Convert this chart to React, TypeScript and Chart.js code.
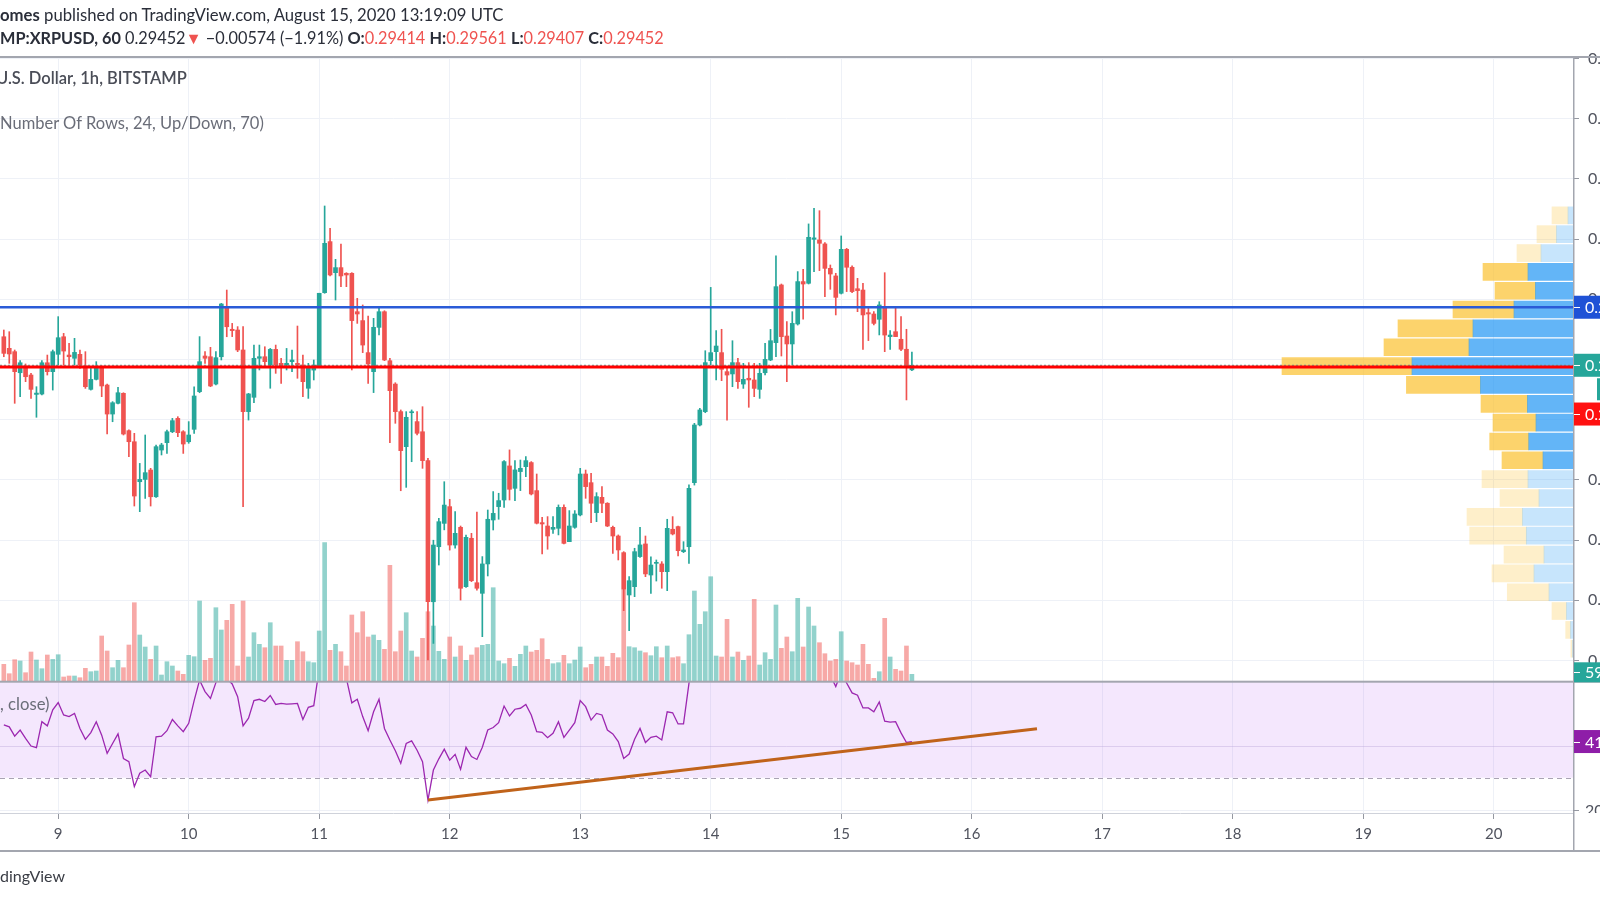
import React, { useEffect, useRef } from "react";
import { Chart, registerables } from "chart.js";

Chart.register(...registerables);

// ---------- data (hourly candles, hour offsets from Aug 9 00:00 UTC) ----------
const FIRST_HOUR = -10;

const opens = [
  0.29689, 0.29593, 0.29565, 0.2939, 0.29446, 0.29371, 0.2921, 0.29213, 0.29473, 0.29399,
  0.29543, 0.29689, 0.29537, 0.2951, 0.29543, 0.29446, 0.29252, 0.29335, 0.29435, 0.29288,
  0.29047, 0.29136, 0.29219, 0.28909, 0.28817, 0.28485, 0.28504, 0.28582, 0.2836, 0.28748,
  0.28809, 0.289, 0.29011, 0.289, 0.28817, 0.2892, 0.29233, 0.29529, 0.29523, 0.29296,
  0.29523, 0.29939, 0.29751, 0.29745, 0.29579, 0.29067, 0.29186, 0.2951, 0.29523, 0.29454,
  0.29584, 0.29468, 0.29454, 0.29482, 0.29468, 0.29454, 0.29261, 0.29412, 0.29446, 0.30055,
  0.30479, 0.30221, 0.30263, 0.30216, 0.30216, 0.29897, 0.29823, 0.29557, 0.29399, 0.29767,
  0.29897, 0.2949, 0.29296, 0.29067, 0.28776, 0.29058, 0.28984, 0.289, 0.2866, 0.27488,
  0.27945, 0.28139, 0.28278, 0.27959, 0.28106, 0.27613, 0.28015, 0.27646, 0.27558, 0.27802,
  0.28167, 0.28278, 0.28333, 0.28616, 0.2843, 0.28569, 0.2861, 0.28644, 0.28411, 0.28145,
  0.28117, 0.2809, 0.28098, 0.28272, 0.27987, 0.28106, 0.28209, 0.28549, 0.28477, 0.28228,
  0.28355, 0.28306, 0.28106, 0.28034, 0.27896, 0.27544, 0.27613, 0.27863, 0.27968, 0.2771,
  0.27807, 0.27802, 0.27738, 0.2809, 0.28112, 0.27904, 0.27945, 0.28477, 0.28956, 0.29067,
  0.2949, 0.29565, 0.29557, 0.29399, 0.2938, 0.29474, 0.29296, 0.29344, 0.2933, 0.29252,
  0.2939, 0.29496, 0.2964, 0.30119, 0.29695, 0.29629, 0.29795, 0.30147, 0.30133, 0.30498,
  0.30493, 0.3046, 0.30257, 0.30194, 0.3005, 0.30415, 0.30266, 0.30088, 0.30077, 0.29889,
  0.29878, 0.29834, 0.29925, 0.2969, 0.29731, 0.29668, 0.29585, 0.29414,
];

const highs = [
  0.29745, 0.29731, 0.29579, 0.2949, 0.29463, 0.29385, 0.29274, 0.2949, 0.29537, 0.29579,
  0.29856, 0.29717, 0.29634, 0.29676, 0.29579, 0.29565, 0.29426, 0.29482, 0.29446, 0.29296,
  0.2915, 0.29268, 0.29224, 0.28915, 0.28887, 0.28637, 0.28873, 0.28596, 0.2879, 0.28804,
  0.28914, 0.29011, 0.29025, 0.28909, 0.28984, 0.29274, 0.2969, 0.29565, 0.29601, 0.29565,
  0.29966, 0.30077, 0.298, 0.29773, 0.29773, 0.29219, 0.2962, 0.2962, 0.29606, 0.29592,
  0.2962, 0.2951, 0.29592, 0.29579, 0.29778, 0.29537, 0.29468, 0.29496, 0.3005, 0.30775,
  0.3059, 0.30332, 0.30459, 0.30221, 0.30221, 0.30008, 0.29953, 0.29861, 0.29842, 0.29925,
  0.29905, 0.2951, 0.29307, 0.29081, 0.29067, 0.29081, 0.29067, 0.29108, 0.2868, 0.27999,
  0.28181, 0.28485, 0.28338, 0.28236, 0.28117, 0.28042, 0.28056, 0.28232, 0.27863, 0.2825,
  0.28403, 0.28389, 0.2866, 0.28749, 0.2866, 0.28665, 0.28693, 0.28652, 0.28549, 0.28189,
  0.28195, 0.28195, 0.28292, 0.28292, 0.28245, 0.28245, 0.28596, 0.28582, 0.28555, 0.28394,
  0.28444, 0.28311, 0.28117, 0.28043, 0.27904, 0.27696, 0.27932, 0.28106, 0.28034, 0.27862,
  0.27835, 0.27821, 0.28173, 0.28195, 0.28117, 0.27987, 0.28458, 0.2897, 0.29094, 0.29573,
  0.30099, 0.2974, 0.29751, 0.2944, 0.29656, 0.2951, 0.29468, 0.29474, 0.29468, 0.29468,
  0.29634, 0.2975, 0.3036, 0.30127, 0.29815, 0.29897, 0.3023, 0.30249, 0.30626, 0.30756,
  0.30736, 0.30471, 0.30285, 0.30216, 0.30526, 0.30423, 0.30277, 0.30174, 0.30133, 0.29925,
  0.29897, 0.2998, 0.30221, 0.2974, 0.29925, 0.29856, 0.29751, 0.29561,
];

const lows = [
  0.29523, 0.29468, 0.29136, 0.29191, 0.29316, 0.29177, 0.2902, 0.29205, 0.29371, 0.29246,
  0.29454, 0.29454, 0.29454, 0.29454, 0.29426, 0.2926, 0.29246, 0.2933, 0.29191, 0.28881,
  0.28983, 0.2913, 0.28873, 0.28693, 0.28283, 0.28236, 0.28346, 0.28283, 0.28355, 0.28707,
  0.2872, 0.28892, 0.28859, 0.2872, 0.28804, 0.28887, 0.29224, 0.29468, 0.29274, 0.29288,
  0.29496, 0.29689, 0.2969, 0.29565, 0.28278, 0.28997, 0.29141, 0.29413, 0.2944, 0.29261,
  0.29385, 0.29302, 0.29413, 0.29399, 0.29344, 0.29191, 0.29177, 0.2933, 0.2944, 0.3005,
  0.30194, 0.29994, 0.30105, 0.30105, 0.29413, 0.298, 0.29557, 0.29302, 0.29225, 0.29704,
  0.2949, 0.28809, 0.2897, 0.2841, 0.28438, 0.28651, 0.28873, 0.28596, 0.27004, 0.27142,
  0.27793, 0.28085, 0.27917, 0.27932, 0.27502, 0.27608, 0.27655, 0.27585, 0.27198, 0.27702,
  0.28084, 0.28173, 0.28272, 0.28333, 0.28328, 0.28411, 0.28527, 0.28375, 0.28134, 0.27885,
  0.27924, 0.28056, 0.28043, 0.27968, 0.27987, 0.28098, 0.28201, 0.28347, 0.28145, 0.28153,
  0.28228, 0.28112, 0.2789, 0.27835, 0.27414, 0.27248, 0.2753, 0.27857, 0.27696, 0.27558,
  0.2766, 0.276, 0.2758, 0.28043, 0.27868, 0.27896, 0.27807, 0.28457, 0.28948, 0.29058,
  0.29454, 0.2933, 0.29324, 0.28997, 0.29274, 0.2926, 0.2926, 0.29103, 0.29191, 0.29177,
  0.29371, 0.2949, 0.29523, 0.29529, 0.29316, 0.29454, 0.29786, 0.29834, 0.30127, 0.3023,
  0.30238, 0.30022, 0.30083, 0.2987, 0.30044, 0.30064, 0.30055, 0.29897, 0.29584, 0.29657,
  0.29787, 0.29704, 0.29565, 0.29584, 0.2969, 0.29573, 0.29164, 0.29407,
];

const closes = [
  0.29551, 0.29546, 0.29399, 0.29473, 0.29357, 0.29252, 0.29221, 0.29473, 0.29399, 0.29565,
  0.29681, 0.2957, 0.29523, 0.29559, 0.29454, 0.29274, 0.29335, 0.2944, 0.2928, 0.29047,
  0.29141, 0.29224, 0.28881, 0.28817, 0.28366, 0.28504, 0.2856, 0.2836, 0.28776, 0.2879,
  0.289, 0.28992, 0.28892, 0.28798, 0.28873, 0.29197, 0.29482, 0.2951, 0.2928, 0.29515,
  0.29961, 0.29772, 0.2974, 0.29579, 0.29067, 0.29214, 0.2951, 0.29523, 0.29482, 0.29584,
  0.29454, 0.29446, 0.29468, 0.29496, 0.29454, 0.29316, 0.2944, 0.29454, 0.3005, 0.30465,
  0.30202, 0.30263, 0.30194, 0.30202, 0.29823, 0.29878, 0.2962, 0.29463, 0.29767, 0.29897,
  0.29496, 0.29241, 0.29067, 0.28743, 0.2902, 0.29065, 0.28887, 0.2866, 0.27488, 0.27959,
  0.28153, 0.28291, 0.27959, 0.28056, 0.276, 0.28023, 0.27663, 0.276, 0.27802, 0.28173,
  0.28222, 0.28328, 0.28652, 0.28422, 0.28583, 0.28596, 0.2866, 0.28383, 0.2814, 0.28134,
  0.28034, 0.28106, 0.28272, 0.27973, 0.28117, 0.28217, 0.28549, 0.28444, 0.28306, 0.28361,
  0.28306, 0.28117, 0.28034, 0.27918, 0.27591, 0.27663, 0.27904, 0.2796, 0.27719, 0.27793,
  0.27813, 0.27738, 0.28098, 0.28051, 0.27912, 0.27918, 0.2843, 0.28956, 0.29081, 0.29474,
  0.29557, 0.29612, 0.29418, 0.29371, 0.29474, 0.29316, 0.29335, 0.2933, 0.2926, 0.29385,
  0.29501, 0.29656, 0.30105, 0.2969, 0.29629, 0.298, 0.30147, 0.30127, 0.30515, 0.3051,
  0.30465, 0.30257, 0.3021, 0.30016, 0.30415, 0.30266, 0.30064, 0.30072, 0.2987, 0.29878,
  0.298, 0.29953, 0.29703, 0.29703, 0.2969, 0.29585, 0.29446, 0.29452,
];

const volumes = [
  17.4, 8, 22, 20.7, 9, 29.7, 21.7, 13, 26.7, 22.3,
  27, 4.7, 5.7, 5.7, 4, 13.4, 10, 10.7, 45.7, 30.7,
  14, 21.4, 14, 36.7, 79, 46.7, 34.7, 22.4, 35.7, 6.7,
  20, 15.7, 10.7, 7.4, 26.4, 25, 80.7, 21.4, 23.4, 74,
  51.7, 61.4, 77.4, 15.7, 80.7, 24.7, 49, 37.4, 34, 59,
  35.7, 35.7, 21.4, 21.4, 40, 30, 20, 19, 50.7, 139,
  31.4, 37.4, 30, 15.7, 66.7, 49, 70, 44.7, 46.7, 41.4,
  32.4, 116.4, 30, 50.7, 69, 30.7, 24.7, 43.4, 70, 55.7,
  30.4, 22.4, 44.7, 24.7, 35.7, 21.4, 26.7, 34, 36.4, 37.4,
  94, 20.7, 18, 23.4, 15.4, 27.4, 35.7, 29.7, 31.4, 43,
  22.4, 18, 19, 26.4, 18, 21.7, 34.7, 14, 17.4, 24.7,
  24.7, 15.4, 28.4, 24, 91.4, 35, 34, 30.7, 29, 26,
  35, 24, 35.7, 24, 25, 18, 47, 90.7, 57.4, 70,
  105, 25.7, 24.7, 62.4, 24.7, 29.7, 21.4, 25.7, 82.4, 16.7,
  29, 22.4, 76.7, 33.4, 44.7, 30, 83.4, 34.7, 74.7, 55.7,
  39, 28, 20.7, 22.4, 50, 20.7, 19, 16.7, 37.4, 17.4,
  3.4, 10, 63.4, 24.7, 12.4, 10.7, 35.7, 7.4,
];

const rsiValues = [
  46.5, 45.9, 43.0, 44.9, 42.3, 39.9, 39.4, 47.5, 46.2, 51.2,
  53.5, 49.6, 49.1, 50.1, 45.4, 42.0, 44.1, 47.5, 43.3, 37.6,
  40.7, 43.7, 36.0, 35.0, 27.2, 31.4, 32.4, 30.3, 42.8, 43.0,
  44.7, 48.2, 46.2, 44.4, 47.0, 54.1, 60.5, 56.9, 54.8, 59.7,
  66, 61, 59.3, 55.3, 46.2, 48.6, 54.1, 54.5, 53.8, 55.7,
  52.9, 53.2, 53.0, 53.1, 53.2, 48.2, 52.0, 52.5, 64, 72,
  66, 65, 65, 61, 53.4, 54.5, 49.1, 44.7, 50.6, 54.5,
  45.4, 41.8, 38.4, 34.5, 40.7, 41.5, 38.6, 35.0, 23.0, 32.4,
  35.9, 38.9, 35.5, 37.3, 32.6, 39.5, 36.6, 35.7, 39.5, 44.9,
  45.7, 47.2, 52.4, 49.3, 51.4, 51.7, 52.9, 49.6, 44.4, 44.2,
  42.5, 43.9, 47.5, 42.6, 44.9, 47.2, 54.1, 52.2, 48.0, 50.1,
  49.6, 44.9, 43.7, 41.3, 36.0, 37.4, 42.0, 45.4, 41.0, 42.6,
  43.0, 41.8, 50.6, 50.3, 46.8, 46.8, 59.5, 68, 70, 74,
  75, 75, 70, 68, 69, 65, 65, 64, 62, 64,
  66, 68, 74, 66, 65, 67, 72, 71, 75, 75,
  72, 66, 62, 58.5, 63, 59.6, 56.5, 55.8, 51.8, 51.8,
  50.6, 53.7, 47.7, 47.4, 47.5, 44.0, 41.0, 41.3,
];

const dayLabels = ["9", "10", "11", "12", "13", "14", "15", "16", "17", "18", "19", "20"];

// Volume profile (24 rows, row-centre prices, up / down volumes)
const vpPrices = [
  0.30697, 0.30541, 0.30384, 0.30228, 0.30071, 0.29915, 0.29758, 0.29602,
  0.29445, 0.29289, 0.29132, 0.28976, 0.28819, 0.28663, 0.28506, 0.2835,
  0.28193, 0.28037, 0.2788, 0.27724, 0.27567, 0.27411, 0.27254, 0.27098,
];
const vpUp = [5, 16.6, 32, 45, 37.6, 59, 100, 104, 161, 92.6, 45.6, 37, 44.3, 30, 45, 34, 50.6, 46.7, 29, 39, 24, 6.6, 2.6, 0.6];
const vpDown = [16, 19.4, 24, 45, 40.4, 61, 75, 85, 130, 74, 46.4, 43, 39, 41, 46, 39, 55.4, 56.6, 40, 42, 41.7, 14.4, 4.7, 1.5];
const vpInValueArea = [false, false, false, true, true, true, true, true, true, true, true, true, true, true, false, false, false, false, false, false, false, false, false, false];

// drawn levels
const blueLevel = 0.29934;
const redLevel = 0.29438;
const lastClose = 0.29452;
const redBadgeLevel = 0.29047;
const rsiTrend = [
  { h: 68, v: 23.0 },
  { h: 180, v: 45.3 },
];

// ---------- scale ranges ----------
const X_MIN = -10.703;
const X_MAX = 278.58;
const P_MIN = 0.257334;
const P_MAX = 0.320124;
const RSI_MIN = 18.97;
const RSI_MAX = 255.22;
const RSI_PANEL_TOP = 60;
const VOL_MIN = -131.3;
const VOL_MAX = 624.7;
const VP_MAX = 1573;
const PRICE_PANEL_MIN = 0.268;

const TEAL = "#26a69a";
const RED = "#ef5350";
const FONT = "Lato, 'Noto Sans', sans-serif";

const hours = opens.map((_, i) => FIRST_HOUR + i);
const isUp = closes.map((c, i) => c >= opens[i]);

function drawBadge(ctx: CanvasRenderingContext2D, left: number, y: number, h: number, color: string, text: string) {
  ctx.fillStyle = color;
  ctx.fillRect(left, y - h / 2, 40, h);
  ctx.strokeStyle = "#ffffff";
  ctx.lineWidth = 1;
  ctx.beginPath();
  ctx.moveTo(left, Math.round(y) + 0.5);
  ctx.lineTo(left + 6, Math.round(y) + 0.5);
  ctx.stroke();
  ctx.fillStyle = "#ffffff";
  ctx.font = `16px ${FONT}`;
  ctx.textBaseline = "middle";
  ctx.textAlign = "left";
  ctx.fillText(text, left + 11, y + 1);
}

const overlayPlugin = {
  id: "overlay",
  beforeDatasetsDraw(chart: any) {
    const { ctx, chartArea: a, scales } = chart;
    const r = scales.yRsi;
    const top = r.getPixelForValue(RSI_PANEL_TOP);
    const y70 = Math.max(r.getPixelForValue(70), top);
    const y30 = r.getPixelForValue(30);
    ctx.save();
    ctx.fillStyle = "rgba(176,82,242,0.14)";
    ctx.fillRect(a.left, y70, a.right - a.left, y30 - y70);
    const y40 = Math.round(r.getPixelForValue(40)) + 0.5;
    ctx.strokeStyle = "rgba(190,170,220,0.45)";
    ctx.lineWidth = 1;
    ctx.beginPath();
    ctx.moveTo(a.left, y40);
    ctx.lineTo(a.right, y40);
    ctx.stroke();
    const y20 = Math.round(r.getPixelForValue(20)) + 0.5;
    ctx.strokeStyle = "#eef0f6";
    ctx.beginPath();
    ctx.moveTo(a.left, y20);
    ctx.lineTo(a.right, y20);
    ctx.stroke();
    ctx.setLineDash([5, 4]);
    ctx.strokeStyle = "#aaa3b4";
    ctx.beginPath();
    ctx.moveTo(a.left, Math.round(y30) + 0.5);
    ctx.lineTo(a.right, Math.round(y30) + 0.5);
    ctx.stroke();
    ctx.restore();
  },
  afterDraw(chart: any) {
    const { ctx, chartArea: a, scales } = chart;
    const r = scales.yRsi;
    const p = scales.y;
    const v = scales.yVol;
    const sep = r.getPixelForValue(RSI_PANEL_TOP);
    const W = chart.width;
    ctx.save();
    ctx.fillStyle = "#a3a6af";
    ctx.fillRect(0, sep - 1, W, 2);
    ctx.fillRect(0, a.top - 1, W, 2);
    const bottom = a.bottom + 38;
    ctx.fillRect(0, bottom - 1, W, 2);
    ctx.fillRect(a.right, a.top, 1.5, bottom - a.top);

    ctx.save();
    ctx.beginPath();
    ctx.rect(a.right, sep, 40, a.bottom - sep);
    ctx.clip();
    const y20 = r.getPixelForValue(20);
    ctx.strokeStyle = "#9598a1";
    ctx.lineWidth = 1;
    ctx.beginPath();
    ctx.moveTo(a.right, Math.round(y20) + 0.5);
    ctx.lineTo(a.right + 6, Math.round(y20) + 0.5);
    ctx.stroke();
    ctx.fillStyle = "#50535e";
    ctx.font = `16px ${FONT}`;
    ctx.textBaseline = "middle";
    ctx.fillText("20.00", a.right + 12, y20 + 1);
    ctx.restore();

    drawBadge(ctx, a.right + 1, p.getPixelForValue(blueLevel), 23, "#1f52d6", blueLevel.toFixed(5));
    drawBadge(ctx, a.right + 1, p.getPixelForValue(lastClose), 23, TEAL, lastClose.toFixed(5));
    drawBadge(ctx, a.right + 1, p.getPixelForValue(redBadgeLevel), 23, "#ff1111", redBadgeLevel.toFixed(5));
    ctx.fillStyle = TEAL;
    ctx.fillRect(W - 3, p.getPixelForValue(lastClose) + 13, 3, 22);
    drawBadge(ctx, a.right + 1, v.getPixelForValue(volumes[volumes.length - 1]) - 2, 20, TEAL, "59.523K");
    drawBadge(ctx, a.right + 1, r.getPixelForValue(rsiValues[rsiValues.length - 1]), 23, "#8e1ea8", rsiValues[rsiValues.length - 1].toFixed(2));
    ctx.restore();
  },
};

export default function App() {
  const canvasRef = useRef<HTMLCanvasElement | null>(null);

  useEffect(() => {
    const canvas = canvasRef.current;
    if (!canvas) return;

    const chart = new Chart(canvas, {
      type: "bar",
      data: {
        datasets: [
          {
            type: "line",
            label: "trend",
            data: rsiTrend.map((t) => ({ x: t.h, y: t.v })),
            xAxisID: "x",
            yAxisID: "yRsi",
            borderColor: "#c0631a",
            borderWidth: 3,
            pointRadius: 0,
            order: 0,
          } as any,
          {
            type: "line",
            label: "blue level",
            data: [
              { x: X_MIN, y: blueLevel },
              { x: X_MAX, y: blueLevel },
            ],
            xAxisID: "x",
            yAxisID: "y",
            borderColor: "#2a5bd7",
            borderWidth: 2.5,
            pointRadius: 0,
            order: 0,
          } as any,
          {
            type: "line",
            label: "red level",
            data: [
              { x: X_MIN, y: redLevel },
              { x: X_MAX, y: redLevel },
            ],
            xAxisID: "x",
            yAxisID: "y",
            borderColor: "#ff0000",
            borderWidth: 3,
            pointRadius: 0,
            order: 0,
          } as any,
          {
            type: "line",
            label: "last price",
            data: [
              { x: X_MIN, y: lastClose },
              { x: X_MAX, y: lastClose },
            ],
            xAxisID: "x",
            yAxisID: "y",
            borderColor: "#4f9a90",
            borderWidth: 1,
            borderDash: [2, 2],
            pointRadius: 0,
            order: 0,
          } as any,
          {
            type: "line",
            label: "RSI",
            data: hours.map((h, i) => ({ x: h, y: rsiValues[i] })),
            xAxisID: "x",
            yAxisID: "yRsi",
            borderColor: "#9c27b0",
            borderWidth: 1.3,
            pointRadius: 0,
            tension: 0,
            clip: { left: 0, right: 0, top: -625, bottom: 0 },
            order: 1,
          } as any,
          {
            type: "bar",
            label: "bodies",
            data: hours.map((h, i) => ({ x: h, y: [opens[i], closes[i]] })),
            xAxisID: "x",
            yAxisID: "y",
            backgroundColor: isUp.map((u) => (u ? TEAL : RED)),
            barThickness: 4,
            minBarLength: 1,
            borderWidth: 0,
            grouped: false,
            order: 2,
          } as any,
          {
            type: "bar",
            label: "wicks",
            data: hours.map((h, i) => ({ x: h, y: [lows[i], highs[i]] })),
            xAxisID: "x",
            yAxisID: "y",
            backgroundColor: isUp.map((u) => (u ? TEAL : RED)),
            barThickness: 1,
            borderWidth: 0,
            grouped: false,
            order: 3,
          } as any,
          {
            type: "bar",
            label: "VP up",
            indexAxis: "y",
            data: vpPrices.map((pr, i) => ({ y: pr, x: [0, vpUp[i]] })),
            xAxisID: "xVP",
            yAxisID: "y",
            backgroundColor: vpInValueArea.map((va) => (va ? "rgba(33,150,243,0.7)" : "rgba(33,150,243,0.25)")),
            barThickness: 17,
            borderWidth: 0,
            grouped: false,
            order: 4,
          } as any,
          {
            type: "bar",
            label: "VP down",
            indexAxis: "y",
            data: vpPrices.map((pr, i) => ({ y: pr, x: [vpUp[i], vpUp[i] + vpDown[i]] })),
            xAxisID: "xVP",
            yAxisID: "y",
            backgroundColor: vpInValueArea.map((va) => (va ? "rgba(251,192,45,0.7)" : "rgba(251,192,45,0.25)")),
            barThickness: 17,
            borderWidth: 0,
            grouped: false,
            order: 4,
          } as any,
          {
            type: "bar",
            label: "volume",
            data: hours.map((h, i) => ({ x: h, y: volumes[i] })),
            xAxisID: "x",
            yAxisID: "yVol",
            backgroundColor: isUp.map((u) => (u ? "rgba(38,166,154,0.5)" : "rgba(239,83,80,0.5)")),
            barThickness: 4,
            borderWidth: 0,
            grouped: false,
            order: 6,
          } as any,
        ],
      },
      options: {
        responsive: false,
        animation: false,
        devicePixelRatio: 1,
        layout: { padding: { top: 57, bottom: 49, left: 0, right: 0 } },
        plugins: { legend: { display: false }, tooltip: { enabled: false } },
        scales: {
          x: {
            type: "linear",
            position: "bottom",
            min: X_MIN,
            max: X_MAX,
            offset: false,
            grid: { offset: false, color: "#eef1f7", tickColor: "#9598a1", tickLength: 6, drawTicks: true },
            border: { color: "#cfd2da", width: 1 },
            ticks: {
              stepSize: 24,
              includeBounds: false,
              autoSkip: false,
              maxRotation: 0,
              padding: 6,
              color: "#50535e",
              font: { family: FONT, size: 15 },
              callback: (val: any) => dayLabels[Math.round(Number(val) / 24)] ?? "",
            },
            afterFit: (s: any) => {
              s.height = 38;
            },
          },
          y: {
            type: "linear",
            position: "right",
            min: P_MIN,
            max: P_MAX,
            offset: false,
            beginAtZero: false,
            grid: {
              offset: false,
              color: (c: any) => (c.tick && c.tick.value < PRICE_PANEL_MIN ? "rgba(0,0,0,0)" : "#eef1f7"),
              tickColor: (c: any) => (c.tick && c.tick.value < PRICE_PANEL_MIN ? "rgba(0,0,0,0)" : "#9598a1"),
              tickLength: 6,
            },
            border: { display: false },
            ticks: {
              stepSize: 0.005,
              includeBounds: false,
              autoSkip: false,
              padding: 9,
              color: "#50535e",
              font: { family: FONT, size: 16 },
              callback: (val: any) => (Number(val) < PRICE_PANEL_MIN ? "" : Number(val).toFixed(5)),
            },
            afterFit: (s: any) => {
              s.width = 27;
            },
          },
          yVol: { type: "linear", display: false, min: VOL_MIN, max: VOL_MAX, offset: false, beginAtZero: false },
          yRsi: { type: "linear", display: false, min: RSI_MIN, max: RSI_MAX, offset: false, beginAtZero: false },
          xVP: { type: "linear", display: false, reverse: true, min: 0, max: VP_MAX, offset: false, beginAtZero: false },
        },
      } as any,
      plugins: [overlayPlugin],
    });
    return () => chart.destroy();
  }, []);

  const base: React.CSSProperties = {
    position: "absolute",
    whiteSpace: "nowrap",
    fontFamily: FONT,
    lineHeight: "20px",
  };

  return (
    <div style={{ position: "fixed", left: 0, top: 0, width: 1600, height: 900, overflow: "hidden", background: "#ffffff" }}>
      <canvas ref={canvasRef} width={1600} height={900} style={{ position: "absolute", left: 0, top: 0 }} />
      <div style={{ ...base, left: 0, top: 5, fontSize: 16.7, color: "#2a2e39" }}>
        <b>omes</b> published on TradingView.com, August 15, 2020 13:19:09 UTC
      </div>
      <div style={{ ...base, left: 0, top: 28, fontSize: 16.3, color: "#2a2e39" }}>
        <b>MP:XRPUSD, 60</b> 0.29452<span style={{ color: RED }}>▼</span> −0.00574 (−1.91%) <b>O:</b>
        <span style={{ color: RED }}>0.29414</span> <b>H:</b>
        <span style={{ color: RED }}>0.29561</span> <b>L:</b>
        <span style={{ color: RED }}>0.29407</span> <b>C:</b>
        <span style={{ color: RED }}>0.29452</span>
      </div>
      <div style={{ ...base, left: -4, top: 68, fontSize: 16.5, fontWeight: 600, color: "#4a4d57" }}>
        U.S. Dollar, 1h, BITSTAMP
      </div>
      <div style={{ ...base, left: 0, top: 113, fontSize: 16.5, color: "#6a6d78" }}>
        Number Of Rows, 24, Up/Down, 70)
      </div>
      <div style={{ ...base, left: 0, top: 694, fontSize: 16.7, color: "#6a6d78" }}>, close)</div>
      <div style={{ ...base, left: 0, top: 866, fontSize: 16, color: "#3a3d45" }}>dingView</div>
    </div>
  );
}
